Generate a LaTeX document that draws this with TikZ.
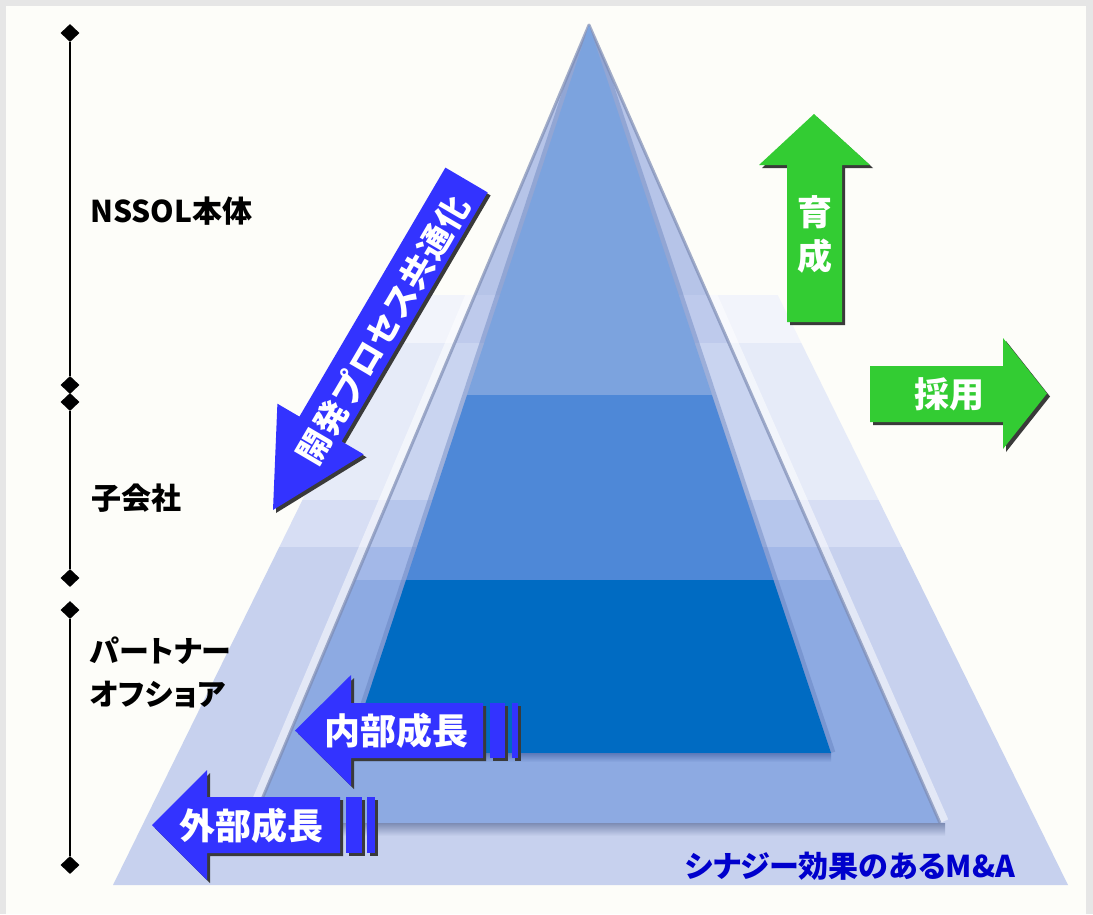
\documentclass[tikz,border=0pt]{standalone}
\usepackage{fontspec}
\newfontfamily\jp{Noto Sans CJK JP}[RawFeature=+palt]
\newfontfamily\jpm{Noto Sans CJK JP}
\usetikzlibrary{shapes.geometric}
\definecolor{framegray}{HTML}{E6E6E6}
\definecolor{paper}{HTML}{FDFDF9}
\definecolor{grn}{HTML}{33CC33}
\definecolor{blu}{HTML}{3333FF}
\definecolor{shd}{HTML}{3A3A3A}
\definecolor{txtblue}{HTML}{0000CC}
\definecolor{aA}{HTML}{F2F4FB}
\definecolor{aB}{HTML}{E6EBF8}
\definecolor{aC}{HTML}{D7DEF4}
\definecolor{aD}{HTML}{C7D1EE}
\definecolor{bA}{HTML}{B6C4E8}
\definecolor{bB}{HTML}{BECAEC}
\definecolor{bC}{HTML}{C9D4F0}
\definecolor{bD}{HTML}{B6C6EC}
\definecolor{bE}{HTML}{A3B8E8}
\definecolor{bF}{HTML}{8DAAE2}
\definecolor{cA}{HTML}{7CA3DE}
\definecolor{cB}{HTML}{4E88D7}
\definecolor{cC}{HTML}{006BC2}
\definecolor{bedge}{HTML}{7D8CB4}
\definecolor{cedge}{HTML}{5C79B8}
\begin{document}
\begin{tikzpicture}[x=1pt,y=-1pt,
  dia/.style={diamond, fill=black, inner sep=0pt, minimum width=19pt, minimum height=18pt},
  axisline/.style={line width=1.4pt, black},
  lbl/.style={inner sep=0pt, anchor=west, font=\jp\bfseries\fontsize{30}{30}\selectfont},
  arrtxt/.style={inner sep=0pt, text=white, font=\jpm\bfseries\fontsize{35}{35}\selectfont},
]
% background
\fill[framegray] (0,0) rectangle (1093,914);
\fill[paper] (6,6) rectangle (1086,914);
\useasboundingbox (0,0) rectangle (1093,914);

% pyramid coordinates
\coordinate (P) at (589,25);
\coordinate (Aal) at (403.3,295);
\coordinate (Aar) at (777.7,295);
\coordinate (Abl) at (113,885);
\coordinate (Abr) at (1068,885);
\coordinate (Bbl) at (252,823);
\coordinate (Bbr) at (940,823);
\coordinate (Cbl) at (349,753);
\coordinate (Cbr) at (831,753);

% layer A
\begin{scope}
\clip (Abl) -- (Aal) -- (Aar) -- (Abr) -- cycle;
\fill[aA] (0,295) rectangle (1093,343);
\fill[aB] (0,343) rectangle (1093,500);
\fill[aC] (0,500) rectangle (1093,547);
\fill[aD] (0,547) rectangle (1093,886);
% highlight outside B
\draw[white, line width=18pt, opacity=0.5, line join=round] (Bbl) -- (P) -- (Bbr);
\end{scope}

% layer B
\begin{scope}
\clip (Bbl) -- (P) -- (Bbr) -- cycle;
\fill[bA] (0,0) rectangle (1093,295);
\fill[bB] (0,295) rectangle (1093,343);
\fill[bC] (0,343) rectangle (1093,500);
\fill[bD] (0,500) rectangle (1093,547);
\fill[bE] (0,547) rectangle (1093,580);
\fill[bF] (0,580) rectangle (1093,824);
\draw[cedge, line width=9pt, opacity=0.4, line join=round] (Cbl) -- (P) -- (Cbr);
\end{scope}
\draw[bedge, line width=3pt, opacity=0.7, line join=round] (Bbl) -- (P) -- (Bbr);
% shadow under B
\begin{scope}
\clip (Abl) -- (Aal) -- (Aar) -- (Abr) -- cycle;
\shade[top color=bedge, bottom color=aD] (250,823) rectangle (945,836);
\end{scope}

% layer C face
\begin{scope}
\clip (Cbl) -- (P) -- (Cbr) -- cycle;
\fill[cA] (0,0) rectangle (1093,395);
\fill[cB] (0,395) rectangle (1093,580);
\fill[cC] (0,580) rectangle (1093,754);
\end{scope}
\shade[top color=cedge, bottom color=bF] (349,753) rectangle (831,762);

% left axis
\node[dia] (d1) at (70,33) {};
\node[dia] (d2) at (70,385) {};
\node[dia] (d3) at (70,402) {};
\node[dia] (d4) at (70,578) {};
\node[dia] (d5) at (70,610) {};
\node[dia] (d6) at (70,865) {};
\draw[axisline] (d1) -- (d2);
\draw[axisline] (d3) -- (d4);
\draw[axisline] (d5) -- (d6);

\node[lbl] (l1) at (90,211) {NSSOL本体};
\node[lbl] (l2) at (91,498) {子会社};
\node[lbl] (l3) at (90,651) {パートナー};
\node[lbl] (l4) at (90,695) {オフショア};

% green up arrow
\foreach \d/\c in {3/shd,0/grn}
  \fill[\c, shift={(\d,\d)}] (787,322) -- (787,165) -- (759,165) -- (814,114) -- (870,165) -- (842,165) -- (842,322) -- cycle;
\node[arrtxt, align=center, font=\jpm\bfseries\fontsize{35}{44}\selectfont] (tgrow) at (814.5,234) {育\\成};

% green right arrow
\foreach \d/\c in {3/shd,0/grn}
  \fill[\c, shift={(\d,\d)}] (870,366) -- (1003,366) -- (1003,338) -- (1047,393.5) -- (1003,449) -- (1003,422) -- (870,422) -- cycle;
\node[arrtxt] (thire) at (949,394) {採用};

% blue diagonal arrow
\foreach \d/\c in {3/shd,0/blu}
  \fill[\c, shift={(\d,\d)}] (445.4,167.6) -- (487.6,192.4) -- (341.6,441.4) -- (363.6,454.3) -- (273,510) -- (277.4,403.7) -- (299.4,416.6) -- cycle;
\node[arrtxt, rotate=59.6, font=\jpm\bfseries\fontsize{33}{33}\selectfont] (tproc) at (383,330) {開\kern1pt 発\kern1pt プ\kern1pt ロ\kern1pt セ\kern1pt ス\kern1pt 共\kern1pt 通\kern1pt 化};

% internal growth arrow
\foreach \d/\c in {3/shd,0/blu} {
  \fill[\c, shift={(\d,\d)}] (483,703) -- (351,703) -- (351,675) -- (295,730.5) -- (351,786) -- (351,758) -- (483,758) -- cycle;
  \fill[\c, shift={(\d,\d)}] (490,703) rectangle (505,758);
  \fill[\c, shift={(\d,\d)}] (512,703) rectangle (518,758);
}
\node[arrtxt, font=\jpm\bfseries\fontsize{36}{36}\selectfont] (tint) at (396,731) {内部成長};

% external growth arrow
\foreach \d/\c in {3/shd,0/blu} {
  \fill[\c, shift={(\d,\d)}] (340,797) -- (207,797) -- (207,770) -- (152,825) -- (207,880) -- (207,853) -- (340,853) -- cycle;
  \fill[\c, shift={(\d,\d)}] (346,797) rectangle (362,853);
  \fill[\c, shift={(\d,\d)}] (367,797) rectangle (375,853);
}
\node[arrtxt, font=\jpm\bfseries\fontsize{36}{36}\selectfont] (text) at (251,826) {外部成長};

\node[inner sep=0pt, text=txtblue, font=\jp\bfseries\fontsize{30}{30}\selectfont] (tma) at (850,866) {シナジー効果のあるM\&A};
\end{tikzpicture}
\end{document}
